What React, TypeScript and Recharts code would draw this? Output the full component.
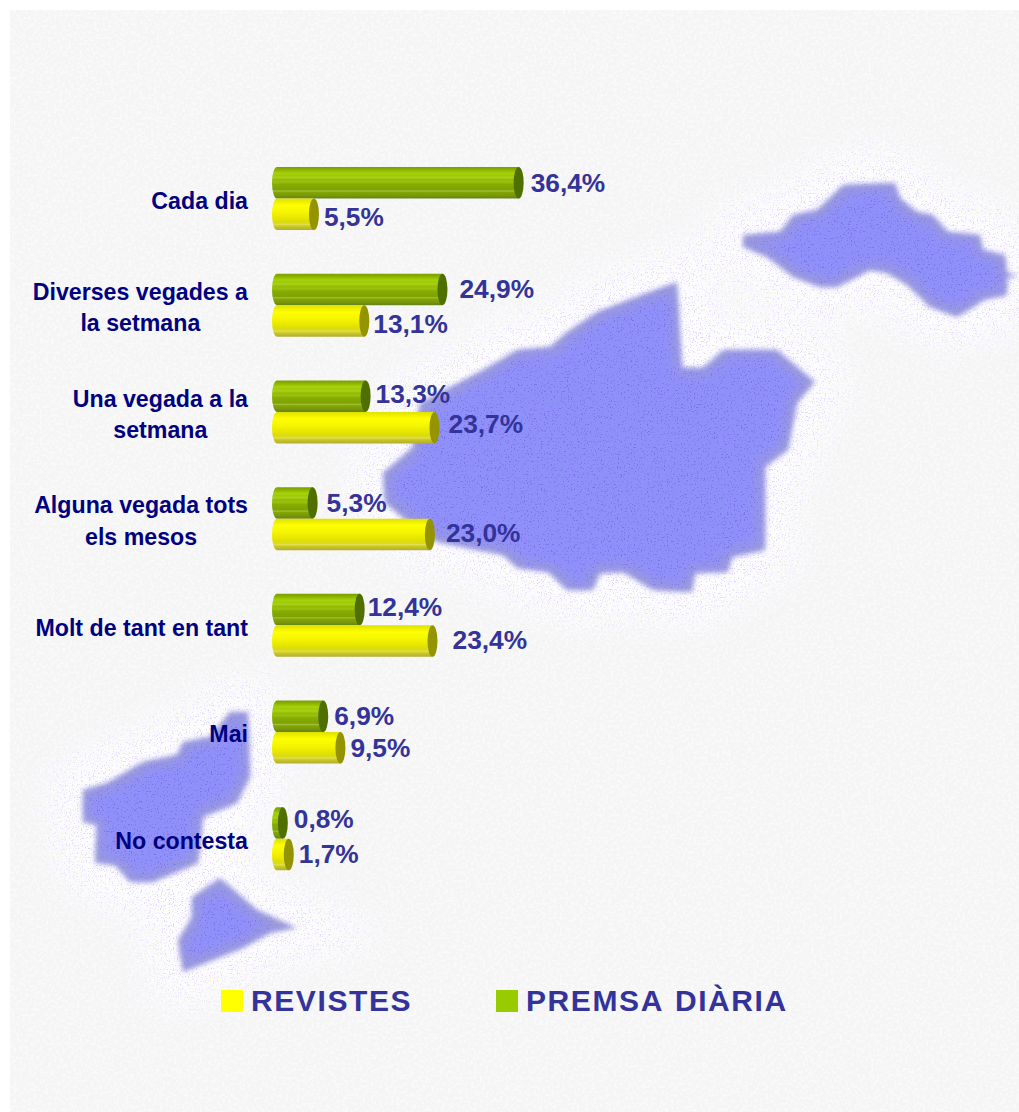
import { BarChart, Bar, XAxis, YAxis, Legend, LabelList } from "recharts";

const categories = [
  "Cada dia",
  "Diverses vegades a\nla setmana",
  "Una vegada a la\nsetmana",
  "Alguna vegada tots\nels mesos",
  "Molt de tant en tant",
  "Mai",
  "No contesta",
];
const premsaValues = [36.4, 24.9, 13.3, 5.3, 12.4, 6.9, 0.8];
const revistesValues = [5.5, 13.1, 23.7, 23.0, 23.4, 9.5, 1.7];

const data = categories.map((name, i) => ({
  name,
  premsa: premsaValues[i],
  revistes: revistesValues[i],
}));

// the labels in the original were placed by hand: [dx, dy]
const labelNudge: Record<string, [number, number]> = {
  "5,5%": [-2, 3],
  "24,9%": [5, 0],
  "13,1%": [-3, 3],
  "13,3%": [-2, -2],
  "23,7%": [2, -4],
  "5,3%": [2, 0],
  "23,0%": [4, -1],
  "12,4%": [-4, -3],
  "23,4%": [8, -1],
  "6,9%": [-1, 0],
  "9,5%": [-2, 0],
  "0,8%": [-1, -4],
  "1,7%": [-2, -1],
};

const LABEL_COLOR = "#333399";
const TICK_COLOR = "#000080";
const FONT = '"Liberation Sans", Arial, sans-serif';

// background map, outlines of the islands (not data)
const islandPaths = [
  "M743,235 L780,232 L793,215 L817,210 L843,185 L895,183 L900,198 L917,212 L933,215 L948,232 L980,235 L983,250 L1005,255 L1007,273 L1019,275 L1007,278 L1007,295 L983,300 L977,305 L957,317 L930,307 L907,285 L887,273 L870,270 L857,277 L837,287 L820,287 L793,277 L767,257 L743,247 Z",
  "M677,282 L682,368 L703,368 L723,350 L777,350 L815,382 L797,403 L788,450 L765,467 L765,550 L732,557 L728,572 L695,573 L692,592 L653,590 L623,572 L600,573 L593,590 L567,590 L548,572 L517,568 L503,555 L437,542 L403,518 L385,503 L383,473 L413,447 L420,403 L483,370 L517,350 L550,347 L567,332 L597,312 L647,293 Z",
  "M230,712 L248,712 L250,777 L237,803 L203,817 L198,863 L153,882 L130,882 L115,865 L95,863 L97,825 L83,822 L83,790 L107,783 L143,762 L177,755 L183,742 L210,737 Z",
  "M220,878 L257,910 L297,928 L270,933 L243,948 L213,960 L183,972 L178,940 L192,917 L192,897 Z",
];

const format = (v: number) => v.toFixed(1).replace(".", ",") + "%";

let measureCtx: CanvasRenderingContext2D | null = null;
const measure = (s: string) => {
  if (!measureCtx) {
    measureCtx = document.createElement("canvas").getContext("2d");
  }
  measureCtx!.font = `bold 23.2px ${FONT}`;
  return measureCtx!.measureText(s).width;
};

const Backdrop = () => (
  <svg
    width={1019}
    height={1112}
    style={{ position: "absolute", left: 0, top: 0 }}
  >
    <defs>
      <filter id="haloBlur" x="-30%" y="-30%" width="160%" height="160%">
        <feGaussianBlur stdDeviation="22" />
      </filter>
      <filter id="edgeBlur" x="-10%" y="-10%" width="120%" height="120%">
        <feGaussianBlur stdDeviation="2.6" />
      </filter>
      <filter id="coreBlur" x="-10%" y="-10%" width="120%" height="120%">
        <feMorphology operator="erode" radius="6" />
        <feGaussianBlur stdDeviation="6" />
      </filter>
      <filter id="speckle" x="0" y="0" width="100%" height="100%" colorInterpolationFilters="sRGB">
        <feTurbulence type="fractalNoise" baseFrequency="0.75" numOctaves="1" seed="4" />
        <feColorMatrix
          type="matrix"
          values="0 0 0 0 0.88  0 0 0 0 0.82  0 0 0 0 1  8 8 0 0 -8.9"
        />
      </filter>
      <filter id="darkSpeckle" x="0" y="0" width="100%" height="100%" colorInterpolationFilters="sRGB">
        <feTurbulence type="fractalNoise" baseFrequency="0.7" numOctaves="1" seed="9" />
        <feColorMatrix
          type="matrix"
          values="0 0 0 0 0.45  0 0 0 0 0.38  0 0 0 0 0.88  8 8 0 0 -9.2"
        />
      </filter>
      <filter id="hatch" x="0" y="0" width="100%" height="100%" colorInterpolationFilters="sRGB">
        <feTurbulence type="fractalNoise" baseFrequency="0.35" numOctaves="1" seed="2" />
        <feColorMatrix
          type="matrix"
          values="0 0 0 0 1  0 0 0 0 1  0 0 0 0 1  6 6 0 0 -6"
        />
      </filter>
      <mask id="haloMask">
        <g filter="url(#haloBlur)" fill="#fff">
          {islandPaths.map((d) => (
            <path key={d} d={d} stroke="#fff" strokeWidth={60} />
          ))}
        </g>
      </mask>
      <mask id="islandMask">
        <g filter="url(#coreBlur)" fill="#fff">
          {islandPaths.map((d) => (
            <path key={d} d={d} stroke="#fff" strokeWidth={8} />
          ))}
        </g>
      </mask>
    </defs>
    <rect x={0} y={0} width={1019} height={1112} fill="#ffffff" />
    <rect x={10} y={10} width={1009} height={1102} fill="#f5f5f5" />
    <rect x={10} y={10} width={1009} height={1102} filter="url(#hatch)" opacity={0.45} />
    <g mask="url(#haloMask)">
      <rect x={10} y={10} width={1009} height={1102} fill="#fefefe" />
      <rect x={10} y={10} width={1009} height={1102} filter="url(#speckle)" />
    </g>
    <g filter="url(#edgeBlur)" fill="#9a9ada">
      {islandPaths.map((d) => (
        <path key={d} d={d} />
      ))}
    </g>
    <g filter="url(#coreBlur)" fill="#9090fa">
      {islandPaths.map((d) => (
        <path key={d} d={d} />
      ))}
    </g>
    <g mask="url(#islandMask)" opacity={0.6}>
      <rect x={10} y={10} width={1009} height={1102} filter="url(#darkSpeckle)" />
    </g>
  </svg>
);

const CategoryTick = ({ x, y, payload }: any) => {
  const lines = String(payload.value).split("\n");
  const blockWidth = Math.max(...lines.map(measure));
  const right = 248;
  const center = lines.length > 1 ? right - blockWidth / 2 : right;
  const anchor = lines.length > 1 ? "middle" : "end";
  const top = y + 2.5 - ((lines.length - 1) * 31.5) / 2;
  return (
    <g>
      {lines.map((line, i) => (
        <text
          key={line}
          x={center}
          y={top + i * 31.5}
          textAnchor={anchor}
          dominantBaseline="central"
          fill={TICK_COLOR}
          fontFamily={FONT}
          fontWeight="bold"
          fontSize={23.2}
        >
          {line}
        </text>
      ))}
    </g>
  );
};

// cylinder: rounded back, lit body and a flat darker cap at the value
const cylinder = (gradient: string, capColor: string) => (props: any) => {
  const { x, y, width, height } = props;
  const rx = 5;
  const ry = height / 2;
  const left = x - 5.5 + rx;
  const end = x + width;
  return (
    <g>
      <path
        d={`M${end},${y} L${left},${y} A${rx},${ry} 0 0 0 ${left},${y + height} L${end},${y + height} Z`}
        fill={`url(#${gradient})`}
      />
      <ellipse cx={end} cy={y + ry} rx={rx} ry={ry} fill={capColor} />
    </g>
  );
};

const ValueLabel = (props: any) => {
  const { x, y, width, height, value } = props;
  const text = format(value);
  const [dx, dy] = labelNudge[text] ?? [0, 0];
  return (
    <text
      x={x + width + 12 + dx}
      y={y + height / 2 + dy}
      dominantBaseline="central"
      fill={LABEL_COLOR}
      fontFamily={FONT}
      fontWeight="bold"
      fontSize={26.3}
    >
      {text}
    </text>
  );
};

const LegendBox = ({ payload }: any) => (
  <div style={{ position: "relative", width: 600, height: 40 }}>
    {[...payload].reverse().map((item: any, i: number) => (
      <div
        key={item.value}
        style={{ position: "absolute", left: i === 0 ? 0 : 275, top: 0, height: 40 }}
      >
        <div
          style={{
            position: "absolute",
            left: 0,
            top: 9,
            width: 22,
            height: 22,
            background: item.color,
          }}
        />
        <span
          style={{
            position: "absolute",
            left: 30,
            top: 0,
            lineHeight: "40px",
            whiteSpace: "nowrap",
            fontFamily: FONT,
            fontWeight: "bold",
            fontSize: 30,
            letterSpacing: 1.6,
            wordSpacing: 1,
            fontKerning: "none",
            color: LABEL_COLOR,
          }}
        >
          {item.value}
        </span>
      </div>
    ))}
  </div>
);

export default function App() {
  return (
    <div
      style={{
        position: "absolute",
        left: 0,
        top: 0,
        width: 1019,
        height: 1112,
        overflow: "hidden",
      }}
    >
      <Backdrop />
      <BarChart
        layout="vertical"
        width={1019}
        height={1112}
        data={data}
        barSize={31.5}
        barGap={0}
        margin={{ top: 145, right: 476.5, bottom: 220, left: 0 }}
        style={{ position: "absolute", left: 0, top: 0 }}
      >
        <defs>
          <linearGradient id="greenBody" x1="0" y1="0" x2="0" y2="1">
            <stop offset="0%" stopColor="#7a9e00" />
            <stop offset="6%" stopColor="#86aa00" />
            <stop offset="16%" stopColor="#9cc800" />
            <stop offset="20%" stopColor="#a8d010" />
            <stop offset="27%" stopColor="#9ccc00" />
            <stop offset="33%" stopColor="#aad020" />
            <stop offset="40%" stopColor="#94bc00" />
            <stop offset="48%" stopColor="#9ac010" />
            <stop offset="55%" stopColor="#86ac00" />
            <stop offset="72%" stopColor="#7fa200" />
            <stop offset="76%" stopColor="#a0c038" />
            <stop offset="80%" stopColor="#84a600" />
            <stop offset="90%" stopColor="#78980c" />
            <stop offset="100%" stopColor="#64841a" />
          </linearGradient>
          <linearGradient id="yellowBody" x1="0" y1="0" x2="0" y2="1">
            <stop offset="0%" stopColor="#e0e000" />
            <stop offset="22%" stopColor="#ffff00" />
            <stop offset="45%" stopColor="#f4f400" />
            <stop offset="70%" stopColor="#e0e000" />
            <stop offset="78%" stopColor="#d8d820" />
            <stop offset="82%" stopColor="#e0e050" />
            <stop offset="88%" stopColor="#ccc820" />
            <stop offset="100%" stopColor="#b0ac38" />
          </linearGradient>
        </defs>
        <XAxis type="number" hide domain={[0, 40]} />
        <YAxis
          type="category"
          dataKey="name"
          width={277.5}
          axisLine={false}
          tickLine={false}
          interval={0}
          tick={<CategoryTick />}
        />
        <Legend
          layout="horizontal"
          align="center"
          verticalAlign="middle"
          content={<LegendBox />}
          wrapperStyle={{ left: 221, top: 981, width: 600, height: 40 }}
        />
        <Bar
          dataKey="premsa"
          name="PREMSA DIÀRIA"
          fill="#99cc00"
          isAnimationActive={false}
          shape={cylinder("greenBody", "#4f6f00")}
        >
          <LabelList dataKey="premsa" content={<ValueLabel />} />
        </Bar>
        <Bar
          dataKey="revistes"
          name="REVISTES"
          fill="#ffff00"
          isAnimationActive={false}
          shape={cylinder("yellowBody", "#949400")}
        >
          <LabelList dataKey="revistes" content={<ValueLabel />} />
        </Bar>
      </BarChart>
    </div>
  );
}
